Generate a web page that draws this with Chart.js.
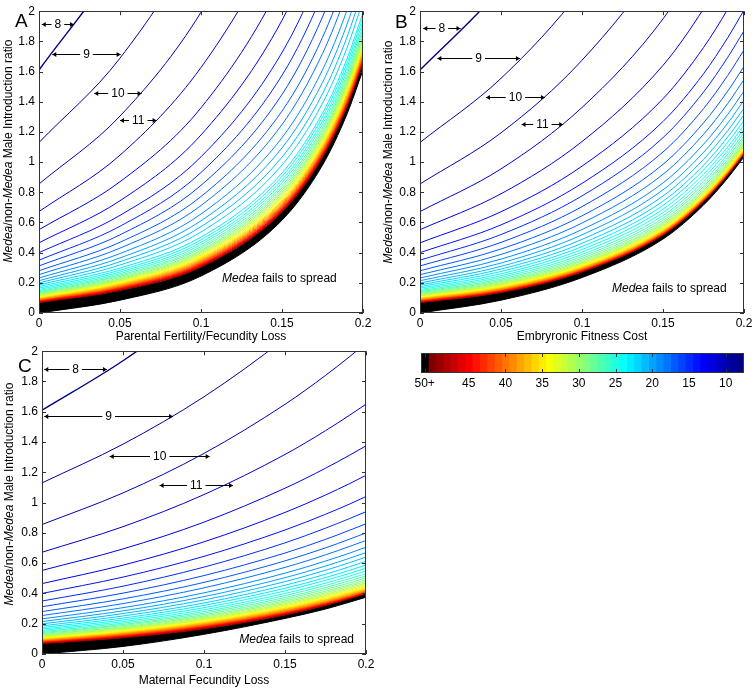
<!DOCTYPE html>
<html>
<head>
<meta charset="utf-8">
<script src="https://cdn.jsdelivr.net/npm/chart.js@4.4.1/dist/chart.umd.min.js"></script>
<style>
  body { margin: 0; background: #fff; width: 756px; height: 689px; position: relative; overflow: hidden; }
  canvas { position: absolute; }
</style>
</head>
<body>
<canvas id="chartA" width="380" height="345" style="left:0;top:0"></canvas>
<canvas id="chartB" width="378" height="345" style="left:378px;top:0"></canvas>
<canvas id="chartC" width="380" height="349" style="left:0;top:340px"></canvas>
<canvas id="colorbar" width="351" height="60" style="left:405px;top:340px"></canvas>
<script>
// sample positions along the cost axis
const xSamples = [0, 0.05, 0.1, 0.15, 0.175, 0.19, 0.2];
const xTicks = [0, 0.05, 0.1, 0.15, 0.2];
const yTicks = [0, 0.2, 0.4, 0.6, 0.8, 1, 1.2, 1.4, 1.6, 1.8, 2];

// generations contour levels
const levels = [8, 9, 10, 11, 12, 13, 14, 15, 16, 17, 18, 19, 20, 21, 22, 23, 24, 25, 26, 27, 28, 29,
  30, 31, 32, 33, 34, 35, 36, 37, 38, 39, 40, 41, 42, 43, 44, 45, 46, 47, 48, 49, 50];

// introduction ratio of each contour at zero cost (same in all panels)
const startRatio = [1.61, 1.13, 0.855, 0.672, 0.552, 0.465, 0.400, 0.350, 0.312, 0.280, 0.254, 0.232,
  0.214, 0.199, 0.186, 0.175, 0.165, 0.156, 0.148, 0.141, 0.135, 0.129, 0.124, 0.119, 0.115, 0.111,
  0.107, 0.104, 0.101, 0.098, 0.095, 0.092, 0.090, 0.087, 0.085, 0.083, 0.081, 0.079, 0.077, 0.075,
  0.073, 0.071, 0.069];

// ratio of each contour at cost 0.05, 0.1, 0.15, 0.175, 0.19, 0.2
const panelA = [
  [2.358, 3.453, 5.057, 6.120, 6.862, 7.406], [1.689, 2.525, 3.774, 4.614, 5.206, 5.642],
  [1.305, 1.993, 3.042, 3.759, 4.267, 4.644], [1.046, 1.627, 2.531, 3.157, 3.604, 3.937],
  [0.870, 1.360, 2.200, 2.869, 3.414, 3.862], [0.744, 1.180, 1.940, 2.557, 3.067, 3.488],
  [0.647, 1.035, 1.726, 2.297, 2.774, 3.172], [0.575, 0.931, 1.575, 2.117, 2.572, 2.955],
  [0.518, 0.846, 1.448, 1.962, 2.398, 2.766], [0.469, 0.772, 1.338, 1.826, 2.245, 2.601],
  [0.430, 0.712, 1.249, 1.719, 2.124, 2.470], [0.394, 0.656, 1.162, 1.611, 2.003, 2.338],
  [0.365, 0.611, 1.094, 1.528, 1.909, 2.236], [0.340, 0.572, 1.033, 1.453, 1.825, 2.146],
  [0.318, 0.537, 0.981, 1.390, 1.753, 2.068], [0.298, 0.503, 0.928, 1.325, 1.681, 1.990],
  [0.284, 0.485, 0.905, 1.299, 1.652, 1.960], [0.272, 0.468, 0.882, 1.272, 1.624, 1.930],
  [0.261, 0.454, 0.863, 1.251, 1.600, 1.905], [0.251, 0.440, 0.845, 1.229, 1.577, 1.880],
  [0.243, 0.429, 0.829, 1.211, 1.557, 1.860], [0.234, 0.417, 0.814, 1.194, 1.538, 1.840],
  [0.227, 0.408, 0.802, 1.181, 1.524, 1.825], [0.221, 0.399, 0.791, 1.168, 1.510, 1.810],
  [0.215, 0.391, 0.779, 1.154, 1.496, 1.795], [0.209, 0.383, 0.769, 1.143, 1.483, 1.782],
  [0.203, 0.376, 0.760, 1.132, 1.472, 1.770], [0.199, 0.369, 0.750, 1.122, 1.460, 1.758],
  [0.194, 0.363, 0.742, 1.112, 1.450, 1.747], [0.190, 0.357, 0.734, 1.103, 1.441, 1.737],
  [0.185, 0.351, 0.727, 1.095, 1.432, 1.728], [0.181, 0.346, 0.720, 1.088, 1.424, 1.720],
  [0.178, 0.341, 0.714, 1.081, 1.416, 1.712], [0.174, 0.336, 0.708, 1.074, 1.410, 1.705],
  [0.171, 0.332, 0.702, 1.068, 1.403, 1.698], [0.168, 0.328, 0.697, 1.062, 1.397, 1.692],
  [0.165, 0.323, 0.692, 1.057, 1.391, 1.686], [0.162, 0.320, 0.688, 1.052, 1.386, 1.681],
  [0.159, 0.316, 0.684, 1.047, 1.382, 1.676], [0.157, 0.313, 0.680, 1.044, 1.378, 1.672],
  [0.154, 0.310, 0.676, 1.040, 1.374, 1.668], [0.151, 0.307, 0.673, 1.036, 1.370, 1.664],
  [0.149, 0.304, 0.669, 1.032, 1.366, 1.660]
];
const panelB = [
  [2.156, 2.900, 3.919, 4.604, 5.090, 5.447], [1.555, 2.147, 2.977, 3.552, 3.965, 4.271],
  [1.194, 1.675, 2.358, 2.843, 3.196, 3.459], [0.955, 1.362, 1.949, 2.376, 2.690, 2.925],
  [0.790, 1.136, 1.641, 2.016, 2.296, 2.506], [0.671, 0.973, 1.420, 1.759, 2.014, 2.207],
  [0.584, 0.859, 1.269, 1.585, 1.825, 2.007], [0.520, 0.776, 1.162, 1.464, 1.695, 1.870],
  [0.468, 0.705, 1.067, 1.354, 1.575, 1.743], [0.424, 0.644, 0.985, 1.260, 1.471, 1.634],
  [0.388, 0.596, 0.919, 1.184, 1.389, 1.547], [0.357, 0.553, 0.862, 1.118, 1.317, 1.471],
  [0.331, 0.518, 0.816, 1.064, 1.259, 1.410], [0.309, 0.488, 0.775, 1.018, 1.209, 1.357],
  [0.291, 0.462, 0.741, 0.979, 1.167, 1.313], [0.275, 0.440, 0.713, 0.947, 1.132, 1.276],
  [0.260, 0.421, 0.688, 0.919, 1.102, 1.245], [0.247, 0.404, 0.666, 0.894, 1.077, 1.218],
  [0.236, 0.388, 0.646, 0.872, 1.053, 1.194], [0.225, 0.375, 0.629, 0.854, 1.033, 1.173],
  [0.216, 0.363, 0.614, 0.838, 1.017, 1.156], [0.208, 0.352, 0.601, 0.823, 1.002, 1.141],
  [0.201, 0.343, 0.591, 0.812, 0.990, 1.129], [0.194, 0.334, 0.581, 0.802, 0.980, 1.118],
  [0.188, 0.327, 0.573, 0.793, 0.971, 1.109], [0.183, 0.321, 0.566, 0.786, 0.963, 1.102],
  [0.178, 0.315, 0.559, 0.779, 0.957, 1.095], [0.174, 0.311, 0.554, 0.774, 0.952, 1.090],
  [0.170, 0.306, 0.550, 0.770, 0.947, 1.085], [0.166, 0.302, 0.546, 0.766, 0.943, 1.081],
  [0.163, 0.299, 0.542, 0.762, 0.939, 1.078], [0.159, 0.295, 0.539, 0.759, 0.936, 1.074],
  [0.157, 0.293, 0.536, 0.756, 0.934, 1.072], [0.154, 0.290, 0.533, 0.754, 0.931, 1.069],
  [0.152, 0.287, 0.531, 0.751, 0.929, 1.067], [0.150, 0.285, 0.529, 0.749, 0.927, 1.065],
  [0.147, 0.283, 0.527, 0.747, 0.925, 1.063], [0.145, 0.281, 0.525, 0.746, 0.923, 1.062],
  [0.143, 0.279, 0.523, 0.744, 0.922, 1.060], [0.141, 0.277, 0.522, 0.742, 0.920, 1.059],
  [0.139, 0.276, 0.520, 0.741, 0.919, 1.057], [0.138, 0.274, 0.519, 0.740, 0.918, 1.056],
  [0.136, 0.272, 0.517, 0.738, 0.916, 1.055]
];
const panelC = [
  [1.937, 2.331, 2.804, 3.076, 3.251, 3.374], [1.386, 1.699, 2.084, 2.308, 2.453, 2.555],
  [1.064, 1.325, 1.649, 1.840, 1.965, 2.053], [0.841, 1.053, 1.318, 1.475, 1.578, 1.650],
  [0.694, 0.871, 1.095, 1.227, 1.314, 1.375], [0.587, 0.741, 0.935, 1.050, 1.126, 1.180],
  [0.508, 0.645, 0.819, 0.923, 0.991, 1.040], [0.448, 0.574, 0.734, 0.831, 0.895, 0.940],
  [0.402, 0.518, 0.667, 0.757, 0.818, 0.860], [0.364, 0.473, 0.615, 0.701, 0.759, 0.800],
  [0.333, 0.437, 0.572, 0.655, 0.711, 0.750], [0.306, 0.404, 0.534, 0.614, 0.667, 0.705],
  [0.285, 0.379, 0.504, 0.581, 0.633, 0.670], [0.267, 0.357, 0.478, 0.553, 0.604, 0.640],
  [0.251, 0.337, 0.454, 0.527, 0.577, 0.612], [0.237, 0.321, 0.434, 0.505, 0.553, 0.588],
  [0.225, 0.306, 0.417, 0.487, 0.533, 0.567], [0.214, 0.292, 0.400, 0.468, 0.515, 0.548],
  [0.204, 0.280, 0.386, 0.453, 0.498, 0.531], [0.195, 0.270, 0.373, 0.439, 0.484, 0.516],
  [0.188, 0.260, 0.362, 0.427, 0.470, 0.502], [0.180, 0.251, 0.351, 0.415, 0.458, 0.490],
  [0.174, 0.244, 0.342, 0.405, 0.448, 0.479], [0.168, 0.236, 0.333, 0.395, 0.438, 0.469],
  [0.163, 0.230, 0.325, 0.387, 0.429, 0.460], [0.158, 0.224, 0.318, 0.379, 0.421, 0.452],
  [0.153, 0.218, 0.312, 0.373, 0.414, 0.445], [0.149, 0.214, 0.306, 0.366, 0.408, 0.439],
  [0.145, 0.209, 0.301, 0.361, 0.403, 0.433], [0.142, 0.205, 0.296, 0.356, 0.398, 0.428],
  [0.138, 0.201, 0.292, 0.352, 0.393, 0.424], [0.135, 0.197, 0.287, 0.347, 0.389, 0.420],
  [0.132, 0.194, 0.284, 0.344, 0.386, 0.417], [0.129, 0.190, 0.280, 0.340, 0.383, 0.414],
  [0.126, 0.187, 0.278, 0.339, 0.381, 0.412], [0.124, 0.185, 0.275, 0.336, 0.379, 0.410],
  [0.121, 0.182, 0.272, 0.333, 0.376, 0.408], [0.119, 0.179, 0.270, 0.331, 0.374, 0.406],
  [0.117, 0.176, 0.267, 0.329, 0.372, 0.404], [0.114, 0.174, 0.265, 0.327, 0.371, 0.403],
  [0.112, 0.171, 0.262, 0.324, 0.369, 0.402], [0.109, 0.169, 0.260, 0.323, 0.368, 0.401],
  [0.107, 0.166, 0.258, 0.321, 0.366, 0.400]
];

// lower edge of the 50+ region (spread threshold) at each sample
const edgeA = [0, 0.085, 0.245, 0.615, 0.98, 1.315, 1.61];
const edgeB = [0, 0.085, 0.235, 0.49, 0.715, 0.895, 1.035];
const edgeC = [0, 0.05, 0.13, 0.235, 0.297, 0.343, 0.375];

// arrow labels: [text, from x, to x, at y]
const arrowsA = [['8', 0.0017, 0.0216, 1.912], ['9', 0.0082, 0.0504, 1.716],
  ['10', 0.0341, 0.0633, 1.459], ['11', 0.05, 0.0726, 1.279]];
const arrowsB = [['8', 0.002, 0.025, 1.891], ['9', 0.0107, 0.0617, 1.688],
  ['10', 0.0407, 0.0771, 1.432], ['11', 0.0627, 0.0884, 1.251]];
const arrowsC = [['8', 0.0014, 0.0401, 1.884], ['9', 0.0014, 0.0809, 1.573],
  ['10', 0.0418, 0.1035, 1.31], ['11', 0.0726, 0.1179, 1.117]];

const colorTicks = [51, 45, 40, 35, 30, 25, 20, 15, 10];
const colorTickLabels = ['50+', '45', '40', '35', '30', '25', '20', '15', '10'];

const FONT = '"Liberation Sans", Arial, Helvetica, sans-serif';
Chart.defaults.font.family = FONT;
Chart.defaults.font.size = 12;
Chart.defaults.color = '#000';

// MATLAB jet colormap, level 8 -> dark blue, level 50 -> dark red
function jet(n) {
  const t = (n - 8) / 42;
  const c = v => Math.round(255 * Math.max(0, Math.min(1, v)));
  const r = c(1.5 - Math.abs(4 * t - 3));
  const g = c(1.5 - Math.abs(4 * t - 2));
  const b = c(1.5 - Math.abs(4 * t - 1));
  return `rgb(${r},${g},${b})`;
}

// axes box with inward ticks on all sides
const boxPlugin = {
  id: 'box',
  afterDraw(chart) {
    const {ctx, chartArea: a, scales} = chart;
    ctx.save();
    ctx.strokeStyle = '#333';
    ctx.lineWidth = 1;
    ctx.strokeRect(Math.round(a.left) + 0.5, Math.round(a.top) + 0.5,
      Math.round(a.right - a.left) - 1, Math.round(a.bottom - a.top) - 1);
    ctx.beginPath();
    scales.x.ticks.forEach(t => {
      const px = Math.round(scales.x.getPixelForValue(t.value)) + 0.5;
      ctx.moveTo(px, a.bottom); ctx.lineTo(px, a.bottom - 4);
      ctx.moveTo(px, a.top); ctx.lineTo(px, a.top + 4);
    });
    if (scales.y.options.display) {
      scales.y.ticks.forEach(t => {
        const py = Math.round(scales.y.getPixelForValue(t.value)) + 0.5;
        ctx.moveTo(a.left, py); ctx.lineTo(a.left + 4, py);
        ctx.moveTo(a.right, py); ctx.lineTo(a.right - 4, py);
      });
    }
    ctx.stroke();
    ctx.restore();
  }
};

const panelNotes = {
  chartA: {letter: 'A', lx: 15, ly: 27, tx: 9, ty: 151, arrows: arrowsA, fx: 0.113, fy: 0.204},
  chartB: {letter: 'B', lx: 17, ly: 28, tx: 11, ty: 152, arrows: arrowsB, fx: 0.1185, fy: 0.142},
  chartC: {letter: 'C', lx: 18, ly: 32, tx: 10, ty: 154, arrows: arrowsC, fx: 0.1218, fy: 0.074}
};

function drawRuns(ctx, runs, x, y) {
  let cx = x;
  runs.forEach(([text, italic]) => {
    ctx.font = `${italic ? 'italic ' : ''}12px ${FONT}`;
    ctx.fillText(text, cx, y);
    cx += ctx.measureText(text).width;
  });
}
function runsWidth(ctx, runs) {
  return runs.reduce((w, [text, italic]) => {
    ctx.font = `${italic ? 'italic ' : ''}12px ${FONT}`;
    return w + ctx.measureText(text).width;
  }, 0);
}

const notesPlugin = {
  id: 'notes',
  afterDraw(chart) {
    const n = panelNotes[chart.canvas.id];
    if (!n) return;
    const {ctx, scales} = chart;
    ctx.save();
    ctx.fillStyle = '#000';
    ctx.strokeStyle = '#000';
    // panel letter
    ctx.font = `19px ${FONT}`;
    ctx.textAlign = 'left';
    ctx.textBaseline = 'alphabetic';
    ctx.fillText(n.letter, n.lx, n.ly);
    // y axis title with italic gene name
    const title = [['Medea', true], ['/non-', false], ['Medea', true], [' Male Introduction ratio', false]];
    const w = runsWidth(ctx, title);
    ctx.save();
    ctx.translate(n.tx, n.ty);
    ctx.rotate(-Math.PI / 2);
    ctx.textBaseline = 'middle';
    drawRuns(ctx, title, -w / 2, 0);
    ctx.restore();
    // "Medea fails to spread"
    ctx.textBaseline = 'alphabetic';
    drawRuns(ctx, [['Medea', true], [' fails to spread', false]],
      scales.x.getPixelForValue(n.fx), scales.y.getPixelForValue(n.fy));
    // arrow labels between contours
    ctx.lineWidth = 1;
    n.arrows.forEach(([label, x1v, x2v, yv]) => {
      const x1 = scales.x.getPixelForValue(x1v);
      const x2 = scales.x.getPixelForValue(x2v);
      const y = Math.round(scales.y.getPixelForValue(yv)) + 0.5;
      ctx.font = `12px ${FONT}`;
      const tw = ctx.measureText(label).width;
      const cx = (x1 + x2) / 2;
      ctx.beginPath();
      ctx.moveTo(x1, y); ctx.lineTo(cx - tw / 2 - 3, y);
      ctx.moveTo(cx + tw / 2 + 3, y); ctx.lineTo(x2, y);
      ctx.stroke();
      ctx.beginPath();
      ctx.moveTo(x1, y); ctx.lineTo(x1 + 4, y - 2.5); ctx.lineTo(x1 + 4, y + 2.5); ctx.closePath();
      ctx.moveTo(x2, y); ctx.lineTo(x2 - 4, y - 2.5); ctx.lineTo(x2 - 4, y + 2.5); ctx.closePath();
      ctx.fill();
      ctx.textAlign = 'center';
      ctx.textBaseline = 'middle';
      ctx.fillText(label, cx, y + 0.5);
      ctx.textAlign = 'left';
    });
    ctx.restore();
  }
};

function panelDatasets(rows, edge) {
  const sets = levels.map((lv, i) => ({
    data: xSamples.map((x, j) => ({x: x, y: j === 0 ? startRatio[i] : rows[i][j - 1]})),
    borderColor: jet(lv),
    borderWidth: lv === 8 ? 1.4 : 1,
    pointRadius: 0,
    fill: false,
    cubicInterpolationMode: 'monotone'
  }));
  sets.push({
    data: xSamples.map((x, j) => ({x: x, y: edge[j]})),
    borderColor: '#000',
    backgroundColor: '#000',
    borderWidth: 1,
    pointRadius: 0,
    fill: '-1',
    cubicInterpolationMode: 'monotone'
  });
  return sets;
}

function panelOptions(xTitle, d) {
  return {
    responsive: false,
    animation: false,
    events: [],
    layout: {padding: {left: 0, top: d.top, right: d.right, bottom: 0}},
    plugins: {legend: {display: false}, tooltip: {enabled: false}},
    scales: {
      x: {
        type: 'linear', min: 0, max: 0.2,
        afterBuildTicks: s => { s.ticks = xTicks.map(v => ({value: v})); },
        afterFit: s => { s.height = d.xh; },
        ticks: {padding: 3, autoSkip: false, maxRotation: 0, callback: v => String(v)},
        grid: {display: false, drawTicks: false},
        border: {display: false},
        title: {display: true, text: xTitle, font: {size: 12}, padding: {top: 0, bottom: 1}}
      },
      y: {
        type: 'linear', min: 0, max: 2,
        afterBuildTicks: s => { s.ticks = yTicks.map(v => ({value: v})); },
        afterFit: s => { s.width = d.yw; },
        ticks: {padding: 4, autoSkip: false, callback: v => String(v)},
        grid: {display: false, drawTicks: false},
        border: {display: false}
      }
    }
  };
}

new Chart(document.getElementById('chartA'), {
  type: 'line',
  data: {datasets: panelDatasets(panelA, edgeA)},
  options: panelOptions('Parental Fertility/Fecundity Loss', {top: 7, right: 17, xh: 32, yw: 39}),
  plugins: [boxPlugin, notesPlugin]
});
new Chart(document.getElementById('chartB'), {
  type: 'line',
  data: {datasets: panelDatasets(panelB, edgeB)},
  options: panelOptions('Embryronic Fitness Cost', {top: 7, right: 12, xh: 32, yw: 42}),
  plugins: [boxPlugin, notesPlugin]
});
new Chart(document.getElementById('chartC'), {
  type: 'line',
  data: {datasets: panelDatasets(panelC, edgeC)},
  options: panelOptions('Maternal Fecundity Loss', {top: 10, right: 14, xh: 35, yw: 42}),
  plugins: [boxPlugin, notesPlugin]
});

// colour bar: one cell per level, black cell for 50+
const cbCells = levels.concat([51]);
new Chart(document.getElementById('colorbar'), {
  type: 'bar',
  data: {
    datasets: [{
      data: cbCells.map(lv => ({x: lv, y: 1})),
      backgroundColor: cbCells.map(lv => (lv > 50 ? '#000' : jet(lv))),
      borderWidth: 0,
      barPercentage: 1,
      categoryPercentage: 1
    }]
  },
  options: {
    responsive: false,
    animation: false,
    events: [],
    layout: {padding: {left: 16, top: 13, right: 12, bottom: 0}},
    plugins: {legend: {display: false}, tooltip: {enabled: false}},
    scales: {
      x: {
        type: 'linear', reverse: true, min: 7.5, max: 51.5, offset: false,
        afterBuildTicks: s => { s.ticks = colorTicks.map(v => ({value: v})); },
        afterFit: s => { s.height = 27; },
        ticks: {padding: 3, autoSkip: false, maxRotation: 0,
          callback: v => colorTickLabels[colorTicks.indexOf(v)]},
        grid: {display: false, drawTicks: false},
        border: {display: false}
      },
      y: {display: false, min: 0, max: 1}
    }
  },
  plugins: [boxPlugin]
});
</script>
</body>
</html>
